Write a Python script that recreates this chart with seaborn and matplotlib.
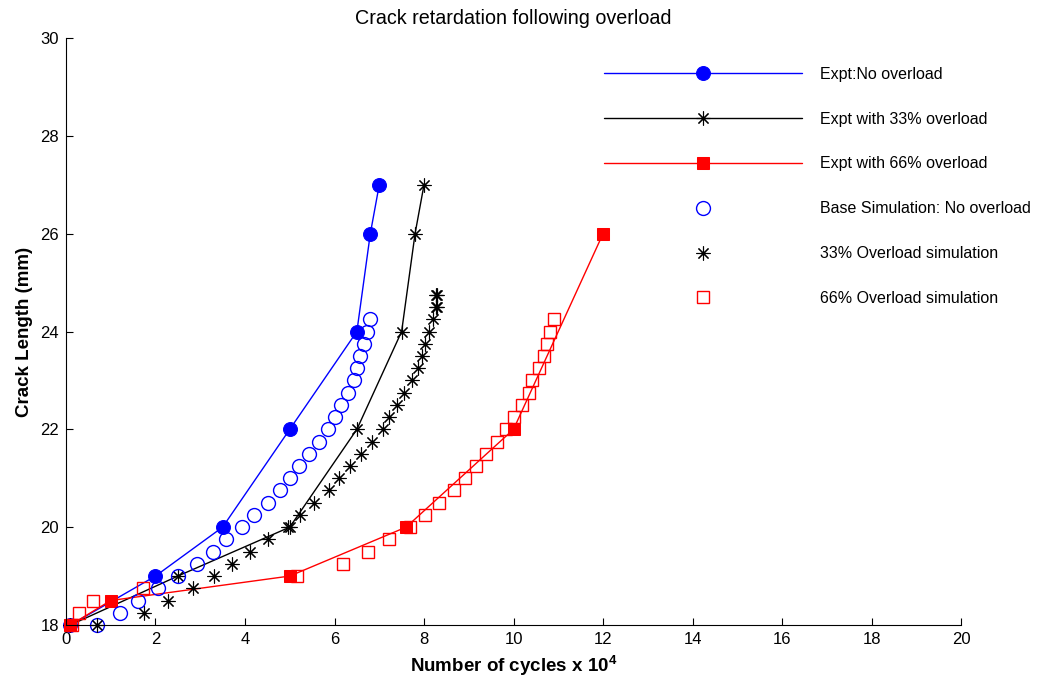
import numpy as np
import pandas as pd
import matplotlib
matplotlib.use("Agg")
import matplotlib.pyplot as plt
import seaborn as sns

# ============================================================
# Data (cycles in 10^4, crack length in mm)
# ============================================================
expt_no_x = [0.1, 2.0, 3.5, 5.0, 6.5, 6.8, 7.0]
expt_no_y = [18, 19, 20, 22, 24, 26, 27]

expt_33_x = [0.1, 2.5, 5.0, 6.5, 7.5, 7.8, 8.0]
expt_33_y = [18, 19, 20, 22, 24, 26, 27]

expt_66_x = [0.1, 1.0, 5.0, 7.6, 10.0, 12.0]
expt_66_y = [18, 18.5, 19, 20, 22, 26]

sim_base_x = [0.70, 1.20, 1.62, 2.06, 2.50, 2.92, 3.29, 3.57, 3.93, 4.21,
              4.51, 4.78, 5.00, 5.21, 5.44, 5.66, 5.86, 6.01, 6.15, 6.31,
              6.44, 6.51, 6.58, 6.66, 6.73, 6.79]
sim_base_y = [18.00, 18.25, 18.50, 18.75, 19.00, 19.25, 19.50, 19.75, 20.00, 20.25,
              20.50, 20.75, 21.00, 21.25, 21.50, 21.75, 22.00, 22.25, 22.50, 22.75,
              23.00, 23.25, 23.50, 23.75, 24.00, 24.25]

sim_33_x = [0.69, 1.74, 2.27, 2.83, 3.31, 3.72, 4.11, 4.51, 4.95, 5.23,
            5.55, 5.88, 6.11, 6.35, 6.59, 6.83, 7.08, 7.22, 7.39, 7.55,
            7.73, 7.86, 7.95, 8.02, 8.12, 8.19, 8.27, 8.27, 8.28, 8.28]
sim_33_y = [18.00, 18.25, 18.50, 18.75, 19.00, 19.25, 19.50, 19.75, 20.00, 20.25,
            20.50, 20.75, 21.00, 21.25, 21.50, 21.75, 22.00, 22.25, 22.50, 22.75,
            23.00, 23.25, 23.50, 23.75, 24.00, 24.25, 24.50, 24.75, 24.50, 24.75]

sim_66_x = [0.13, 0.30, 0.61, 1.73, 5.17, 6.20, 6.75, 7.22, 7.68, 8.02,
            8.34, 8.67, 8.92, 9.16, 9.39, 9.62, 9.84, 10.02, 10.18, 10.35,
            10.42, 10.58, 10.67, 10.74, 10.82, 10.90]
sim_66_y = [18.00, 18.25, 18.50, 18.75, 19.00, 19.25, 19.50, 19.75, 20.00, 20.25,
            20.50, 20.75, 21.00, 21.25, 21.50, 21.75, 22.00, 22.25, 22.50, 22.75,
            23.00, 23.25, 23.50, 23.75, 24.00, 24.25]

x_ticks = list(range(0, 21, 2))
y_ticks = list(range(18, 31, 2))

# ============================================================
# Style
# ============================================================
sns.set_style("ticks")
plt.rcParams["font.family"] = ["Liberation Sans", "DejaVu Sans"]
plt.rcParams["text.color"] = "black"
plt.rcParams["axes.labelcolor"] = "black"
plt.rcParams["mathtext.fontset"] = "custom"
plt.rcParams["mathtext.rm"] = "Liberation Sans:bold"
plt.rcParams["mathtext.it"] = "Liberation Sans:bold"
plt.rcParams["mathtext.bf"] = "Liberation Sans:bold"

ASTERISK = (8, 2, 0)
BLUE = "#0000ff"
RED = "#ff0000"

fig = plt.figure(figsize=(10.39, 6.84), dpi=100)
ax = fig.add_axes([0.0635, 0.0863, 0.8615, 0.8581])


def frame(x, y):
    return pd.DataFrame({"x": x, "y": y})


# ============================================================
# Experiments (lines with markers)
# ============================================================
sns.lineplot(data=frame(expt_no_x, expt_no_y), x="x", y="y", ax=ax,
             sort=False, estimator=None, color=BLUE, lw=1,
             marker="o", markersize=10, markeredgecolor=BLUE,
             label="Expt:No overload", clip_on=False)
sns.lineplot(data=frame(expt_33_x, expt_33_y), x="x", y="y", ax=ax,
             sort=False, estimator=None, color="black", lw=1,
             marker=ASTERISK, markersize=10, markeredgewidth=0.8,
             markeredgecolor="black",
             label="Expt with 33% overload", clip_on=False)
sns.lineplot(data=frame(expt_66_x, expt_66_y), x="x", y="y", ax=ax,
             sort=False, estimator=None, color=RED, lw=1,
             marker="s", markersize=8, markeredgecolor=RED,
             label="Expt with 66% overload", clip_on=False)

# ============================================================
# Simulations (markers only)
# ============================================================
sns.lineplot(data=frame(sim_base_x, sim_base_y), x="x", y="y", ax=ax,
             sort=False, estimator=None, color=BLUE, linestyle="none",
             marker="o", markersize=10, markerfacecolor="none",
             markeredgecolor=BLUE, markeredgewidth=1,
             label="Base Simulation: No overload", clip_on=False)
sns.lineplot(data=frame(sim_33_x, sim_33_y), x="x", y="y", ax=ax,
             sort=False, estimator=None, color="black", linestyle="none",
             marker=ASTERISK, markersize=10, markeredgewidth=0.8,
             markeredgecolor="black",
             label="33% Overload simulation", clip_on=False)
sns.lineplot(data=frame(sim_66_x, sim_66_y), x="x", y="y", ax=ax,
             sort=False, estimator=None, color=RED, linestyle="none",
             marker="s", markersize=9, markerfacecolor="none",
             markeredgecolor=RED, markeredgewidth=1,
             label="66% Overload simulation", clip_on=False)

# ============================================================
# Axes
# ============================================================
ax.set_xlim(0, 20)
ax.set_ylim(18, 30)
ax.set_xticks(x_ticks)
ax.set_yticks(y_ticks)
ax.tick_params(direction="in", length=5, width=0.8, labelsize=12,
               colors="black", pad=5)
sns.despine(ax=ax)
for side in ["left", "bottom"]:
    ax.spines[side].set_color("black")
    ax.spines[side].set_linewidth(0.8)

ax.set_title("Crack retardation following overload", fontsize=14.2, pad=10)
ax.set_xlabel("Number of cycles x 10$^4$", fontsize=13.5, fontweight="bold",
              labelpad=5)
ax.set_ylabel("Crack Length (mm)", fontsize=13.5, fontweight="bold", labelpad=5)

ax.legend(loc="upper left", bbox_to_anchor=(0.594, 0.962), frameon=False,
          fontsize=11.5, handlelength=12.4, handletextpad=1.15,
          labelspacing=1.87, numpoints=1, borderaxespad=0)

fig.savefig("out.png", dpi=100)
plt.close(fig)
